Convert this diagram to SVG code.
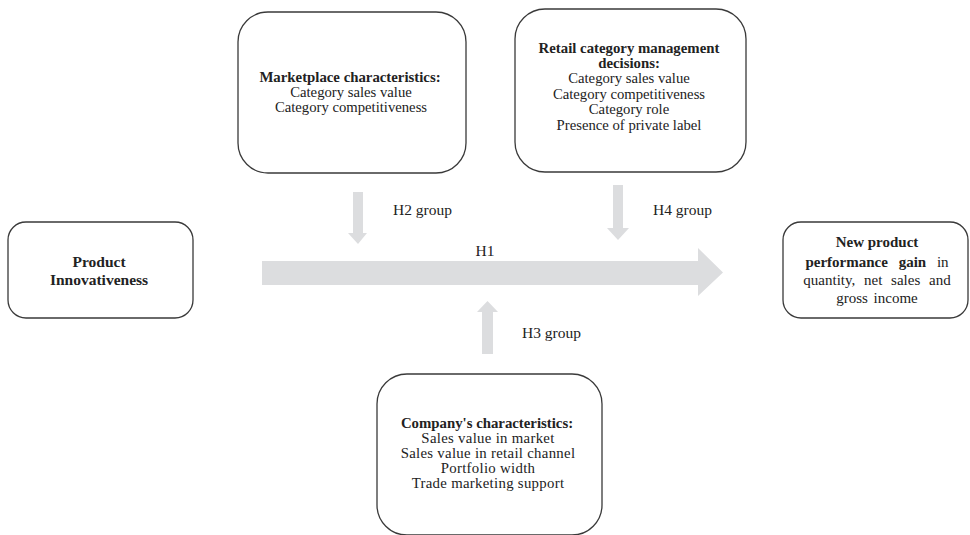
<svg xmlns="http://www.w3.org/2000/svg" width="970" height="535" viewBox="0 0 970 535">
<style>
.box{fill:#fff;stroke:#3a3a3a;stroke-width:1.3}
.arr{fill:#dcdddf;stroke:none}
text{font-family:"Liberation Serif","Times New Roman",serif;font-size:14.7px;fill:#222;text-anchor:middle}
.b{font-weight:bold;font-size:14.8px}
.lbl{text-anchor:start;font-size:15.5px}
.c{font-size:14.8px;letter-spacing:0.3px}
</style>
<rect width="970" height="535" fill="#fff"/>
<g id="connectors">
<polygon class="arr" points="262,261 698,261 698,248 723,272.5 698,296 698,285 262,285"/>
<polygon class="arr" points="353,192 363,192 363,233 367,233 358,244 348,233 353,233"/>
<polygon class="arr" points="613,185 623,185 623,228 629,228 618,240 607,228 613,228"/>
<polygon class="arr" points="482,354 493,354 493,312 498,312 487.5,301 477,312 482,312"/>
<text class="lbl" x="393" y="215">H2 group</text>
<text class="lbl" x="653" y="215">H4 group</text>
<text x="485" y="256" style="font-size:15.5px">H1</text>
<text class="lbl" x="522" y="338">H3 group</text>
</g>
<g id="marketplace">
<rect class="box" x="238" y="12" width="228" height="161" rx="30"/>
<text class="b" x="350" y="82">Marketplace characteristics:</text>
<text x="351" y="97">Category sales value</text>
<text x="351" y="112">Category competitiveness</text>
</g>
<g id="retail">
<rect class="box" x="515" y="9" width="231" height="163" rx="30"/>
<text class="b" x="629" y="53">Retail category management</text>
<text class="b" x="629" y="68">decisions:</text>
<text x="629" y="83">Category sales value</text>
<text x="629" y="99">Category competitiveness</text>
<text x="629" y="114">Category role</text>
<text x="629" y="130">Presence of private label</text>
</g>
<g id="product">
<rect class="box" x="8" y="222" width="185" height="96" rx="18"/>
<text class="b" x="99" y="267" style="font-size:15.5px">Product</text>
<text class="b" x="99" y="285" style="font-size:15.5px">Innovativeness</text>
</g>
<g id="newproduct">
<rect class="box" x="783" y="222" width="185" height="96" rx="18"/>
<text class="b" x="877" y="247" style="font-size:15px">New product</text>
<text x="877" y="267" style="font-size:15px;word-spacing:7px"><tspan style="font-weight:bold">performance gain</tspan> in</text>
<text x="877" y="285" style="font-size:15px;word-spacing:5px">quantity, net sales and</text>
<text x="877" y="303" style="font-size:15px;word-spacing:2px">gross income</text>
</g>
<g id="company">
<rect class="box" x="377" y="374" width="225" height="161" rx="30"/>
<text class="b" x="487" y="428">Company's characteristics:</text>
<text class="c" x="488" y="443">Sales value in market</text>
<text class="c" x="488" y="458">Sales value in retail channel</text>
<text class="c" x="488" y="473">Portfolio width</text>
<text class="c" x="488" y="488">Trade marketing support</text>
</g>
</svg>
